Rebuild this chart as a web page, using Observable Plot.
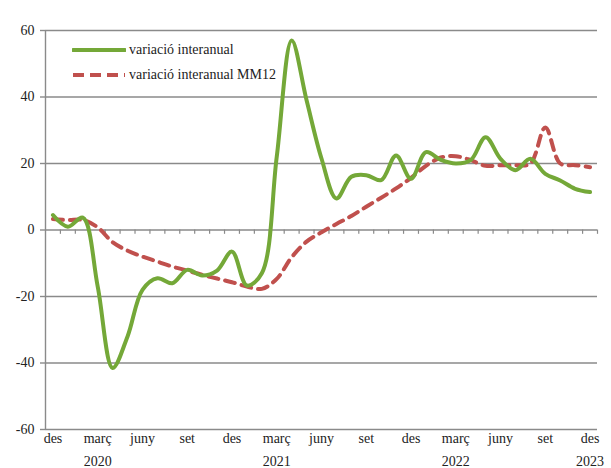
<!DOCTYPE html>
<html><head><meta charset="utf-8">
<script src="https://cdn.jsdelivr.net/npm/d3@7"></script>
<script src="https://cdn.jsdelivr.net/npm/@observablehq/plot@0.6"></script>
<style>
body{margin:0;background:#fff;}
#wrap{position:relative;width:611px;height:468px;font-family:"Times New Roman","Liberation Serif","DejaVu Serif",serif;}
#wrap svg text{font-family:"Times New Roman","Liberation Serif","DejaVu Serif",serif;}
.leg{position:absolute;left:72px;font-size:14px;display:flex;align-items:center;color:#222;white-space:nowrap;font-family:"Times New Roman","Liberation Serif","DejaVu Serif",serif;}
.leg svg{margin-right:3px;}
</style></head><body><div id="wrap"></div>
<script>
// des 2019 .. des 2022, monthly
const interanual = [4.5, 1, 3.7, -17, -41.5, -32, -18, -14.5, -16, -12, -13.7, -12.2, -6.5, -16.7, -13, 22, 57, 39, 21.5, 9.5, 16, 16.5, 15, 22.4, 15.4, 23.4, 21.1, 20, 21, 27.9, 21.4, 18, 21.4, 16.9, 14.9, 12.4, 11.4];
const mm12 = [3.3, 3, 3, 0.8, -3.7, -6.2, -8, -9.5, -11, -12.2, -13.5, -14.6, -15.7, -17, -17.7, -14.7, -8.2, -3.5, -0.7, 1.8, 4.2, 7, 9.7, 12.5, 15.7, 19.3, 21.8, 22.2, 21, 19.3, 19.5, 19.5, 20, 30.8, 20, 19.5, 18.9];
const tickMonths = ["des","març","juny","set","des","març","juny","set","des","març","juny","set","des"];
const tickYears = ["","2020","","","","2021","","","","2022","","","2023"];
const yTicks = [-60, -40, -20, 0, 20, 40, 60];
const seriesNames = ["variació interanual", "variació interanual MM12"];

const green = "#74a838", red = "#c0504d", grid = "#8a8a8a";
const ff = "'Times New Roman', 'Liberation Serif', 'DejaVu Serif', serif";
const rowsA = interanual.map((v, i) => ({i, v}));
const rowsB = mm12.map((v, i) => ({i, v}));
const tickRows = tickMonths.map((m, k) => ({i: k * 3, m, y: tickYears[k]}));
const bounds = d3.range(interanual.length + 1).map(k => k - 0.5);

const plot = Plot.plot({
  width: 611, height: 468,
  marginLeft: 45, marginRight: 14, marginTop: 30, marginBottom: 39,
  style: {fontFamily: ff, fontSize: "14px", color: "#222", background: "#fff"},
  x: {domain: [-0.5, interanual.length - 0.5], axis: null},
  y: {domain: [-60, 60], axis: null},
  marks: [
    Plot.ruleY(yTicks, {stroke: grid, strokeWidth: 1.4}),
    Plot.ruleX(bounds.slice(1), {x: d => d, y1: 0, y2: -1.3, stroke: grid, strokeWidth: 1.2}),
    Plot.ruleX([-0.5], {stroke: grid, strokeWidth: 1.4}),
    Plot.axisY({ticks: yTicks, tickSize: 5, tickFormat: d => String(d), label: null, stroke: grid, strokeWidth: 1.4, tickPadding: 6, fontSize: 14}),
    Plot.line(rowsB, {x: "i", y: "v", stroke: red, strokeWidth: 4, strokeDasharray: "10,7", curve: "catmull-rom"}),
    Plot.line(rowsA, {x: "i", y: "v", stroke: green, strokeWidth: 4, curve: "catmull-rom"}),
    Plot.text(tickRows, {x: "i", text: "m", frameAnchor: "bottom", dy: 13, fontSize: 14, fill: "#222"}),
    Plot.text(tickRows, {x: "i", text: "y", frameAnchor: "bottom", dy: 36, fontSize: 14, fill: "#222"})
  ]
});
const wrap = document.getElementById("wrap");
wrap.appendChild(plot);
const legs = [
  {name: seriesNames[0], top: 42, svg: `<svg width="54" height="10"><line x1="1" y1="5" x2="53" y2="5" stroke="${green}" stroke-width="4" stroke-linecap="round"/></svg>`},
  {name: seriesNames[1], top: 67, svg: `<svg width="54" height="10"><line x1="1" y1="5" x2="53" y2="5" stroke="${red}" stroke-width="4" stroke-dasharray="11,6"/></svg>`}
];
for (const l of legs) {
  const d = document.createElement("div");
  d.className = "leg";
  d.style.top = l.top + "px";
  d.innerHTML = l.svg + `<span>${l.name}</span>`;
  wrap.appendChild(d);
}
</script></body></html>
